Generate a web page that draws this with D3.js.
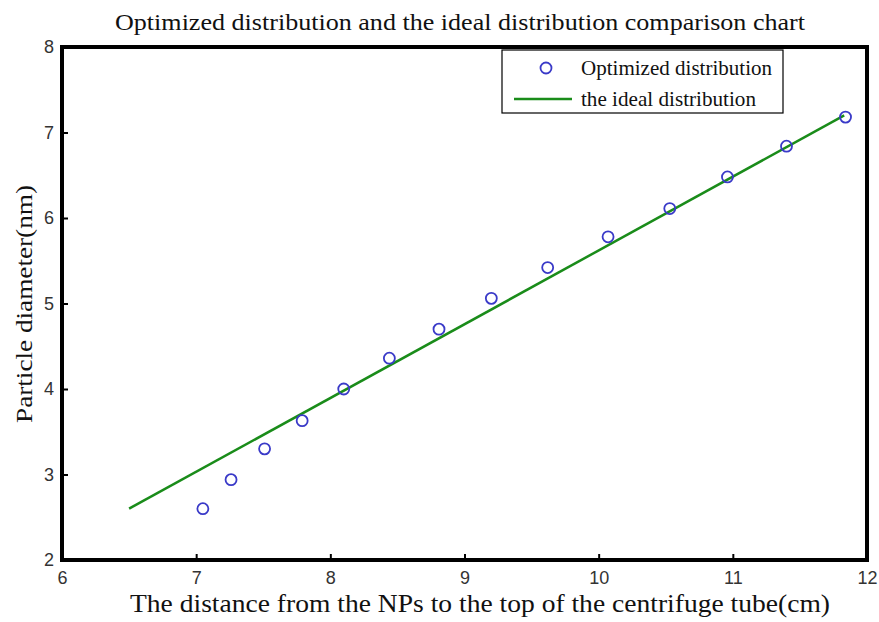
<!DOCTYPE html>
<html>
<head>
<meta charset="utf-8">
<script src="https://cdn.jsdelivr.net/npm/d3@7"></script>
<style>
  body { margin: 0; background: #fff; }
  svg { display: block; }
</style>
</head>
<body>
<div id="chart"></div>
<script>
// data
const optX = [7.05, 7.26, 7.51, 7.79, 8.10, 8.44, 8.81, 9.20, 9.62, 10.07, 10.53, 10.96, 11.40, 11.84];
const optY = [2.60, 2.94, 3.30, 3.63, 4.00, 4.36, 4.70, 5.06, 5.42, 5.78, 6.11, 6.48, 6.84, 7.18];
const idealX = [6.5, 11.83];
const idealY = [2.6, 7.2];
const xTicks = [6, 7, 8, 9, 10, 11, 12];
const yTicks = [2, 3, 4, 5, 6, 7, 8];

const width = 879, height = 622;
const margin = { left: 62, right: 12, top: 47, bottom: 62 };
const serif = "Liberation Serif, Times New Roman, serif";

const svg = d3.select("#chart").append("svg")
    .attr("width", width)
    .attr("height", height);

const x = d3.scaleLinear().domain([6, 12]).range([margin.left, width - margin.right]);
const y = d3.scaleLinear().domain([2, 8]).range([height - margin.bottom, margin.top]);

// inward ticks
const xAxis = svg.append("g")
    .attr("transform", `translate(0,${y(2)})`)
    .call(d3.axisBottom(x).tickValues(xTicks).tickSize(-6).tickPadding(11).tickFormat(d3.format("d")));
const yAxis = svg.append("g")
    .attr("transform", `translate(${x(6)},0)`)
    .call(d3.axisLeft(y).tickValues(yTicks).tickSize(-6).tickPadding(8).tickFormat(d3.format("d")));

[xAxis, yAxis].forEach(a => {
    a.select(".domain").remove();
    a.selectAll(".tick line").attr("stroke", "#000").attr("stroke-width", 2);
    a.selectAll(".tick text")
        .attr("fill", "#333")
        .style("font-family", "Liberation Sans, Arial, sans-serif")
        .style("font-size", "18px");
});

// frame
svg.append("rect")
    .attr("x", x(6)).attr("y", y(8))
    .attr("width", x(12) - x(6)).attr("height", y(2) - y(8))
    .attr("fill", "none").attr("stroke", "#000").attr("stroke-width", 4);

// ideal line
const line = d3.line().x(d => x(d[0])).y(d => y(d[1]));
svg.append("path")
    .datum(idealX.map((v, i) => [v, idealY[i]]))
    .attr("d", line)
    .attr("fill", "none")
    .attr("stroke", "#1a8c1a")
    .attr("stroke-width", 2.5);

// optimized points
svg.append("g").selectAll("circle")
    .data(optX.map((v, i) => [v, optY[i]]))
    .join("circle")
    .attr("cx", d => x(d[0]))
    .attr("cy", d => y(d[1]))
    .attr("r", 5.5)
    .attr("fill", "none")
    .attr("stroke", "#3a3ac8")
    .attr("stroke-width", 1.8);

// legend
const lg = svg.append("g");
lg.append("rect")
    .attr("x", 502).attr("y", 50).attr("width", 281).attr("height", 63)
    .attr("fill", "#fff").attr("stroke", "#000").attr("stroke-width", 1.2);
lg.append("circle")
    .attr("cx", 546).attr("cy", 68).attr("r", 5.5)
    .attr("fill", "none").attr("stroke", "#3a3ac8").attr("stroke-width", 1.8);
lg.append("line")
    .attr("x1", 514).attr("x2", 572).attr("y1", 99).attr("y2", 99)
    .attr("stroke", "#1a8c1a").attr("stroke-width", 2.5);
lg.selectAll("text")
    .data([["Optimized distribution", 191], ["the ideal distribution", 175]])
    .join("text")
    .attr("x", 581)
    .attr("y", (d, i) => 75 + i * 31)
    .attr("textLength", d => d[1])
    .attr("lengthAdjust", "spacingAndGlyphs")
    .text(d => d[0])
    .style("font-family", serif)
    .style("font-size", "21px")
    .attr("fill", "#111");

svg.append("text")
    .attr("x", 460).attr("y", 30)
    .attr("text-anchor", "middle")
    .attr("textLength", 690).attr("lengthAdjust", "spacingAndGlyphs")
    .style("font-family", serif).style("font-size", "24px")
    .attr("fill", "#111")
    .text("Optimized distribution and the ideal distribution comparison chart");

svg.append("text")
    .attr("x", 480).attr("y", 612)
    .attr("text-anchor", "middle")
    .attr("textLength", 700).attr("lengthAdjust", "spacingAndGlyphs")
    .style("font-family", serif).style("font-size", "25px")
    .attr("fill", "#111")
    .text("The distance from the NPs to the top of the centrifuge tube(cm)");

svg.append("text")
    .attr("transform", `translate(32,304) rotate(-90)`)
    .attr("text-anchor", "middle")
    .attr("textLength", 238).attr("lengthAdjust", "spacingAndGlyphs")
    .style("font-family", serif).style("font-size", "24px")
    .attr("fill", "#111")
    .text("Particle diameter(nm)");
</script>
</body>
</html>
